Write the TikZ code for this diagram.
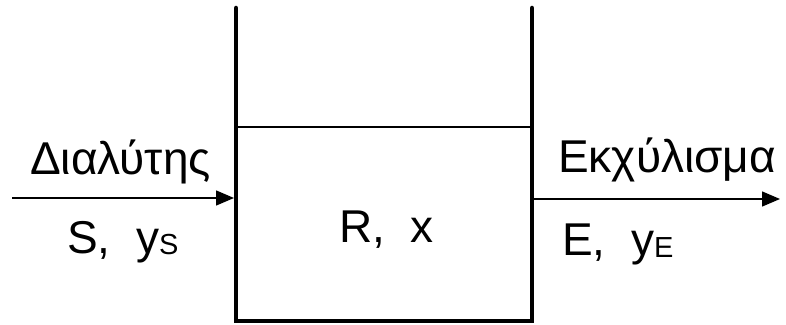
\documentclass[tikz,border=0pt]{standalone}
\usepackage{fontspec}
\setmainfont{Liberation Sans}
\usetikzlibrary{arrows.meta}
\newcommand{\bigtxt}{\fontsize{46}{52}\selectfont}
\newcommand{\subtxt}[1]{\raisebox{-2pt}{\fontsize{29}{33}\selectfont #1}}
\begin{document}
\begin{tikzpicture}[x=1pt,y=1pt,
  wall/.style={line width=4.5pt,line cap=round,line join=miter},
  flow/.style={line width=1.4pt,-{Triangle[length=18pt,width=15pt]}},
  lbl/.style={inner sep=0pt,anchor=base west,font=\bigtxt}]
\useasboundingbox (0,0) rectangle (786,324);
% vessel
\coordinate (tl) at (236,316);
\coordinate (bl) at (236,3);
\coordinate (br) at (532,3);
\coordinate (tr) at (532,316);
\draw[wall] (tl) -- (bl) -- (br) -- (tr);
\coordinate (ll) at (236,197);
\coordinate (lr) at (532,197);
\draw[line width=1.4pt] (ll) -- (lr);
% flows
\coordinate (in0) at (12,126);
\coordinate (in1) at (234,126);
\coordinate (out0) at (534,125);
\coordinate (out1) at (780,125);
\draw[flow] (in0) -- (in1);
\draw[flow] (out0) -- (out1);
% labels
\node[lbl] (solv) at (30,149) {Διαλύτης};
\node[lbl] (sy) at (67,71) {S,\ \ y\subtxt{S}};
\node[lbl] (rx) at (339,82) {R,\ \ x};
\node[lbl] (extr) at (558,151) {Εκχύλισμα};
\node[lbl] (ey) at (562,69) {E,\ \ y\subtxt{E}};
\end{tikzpicture}
\end{document}
